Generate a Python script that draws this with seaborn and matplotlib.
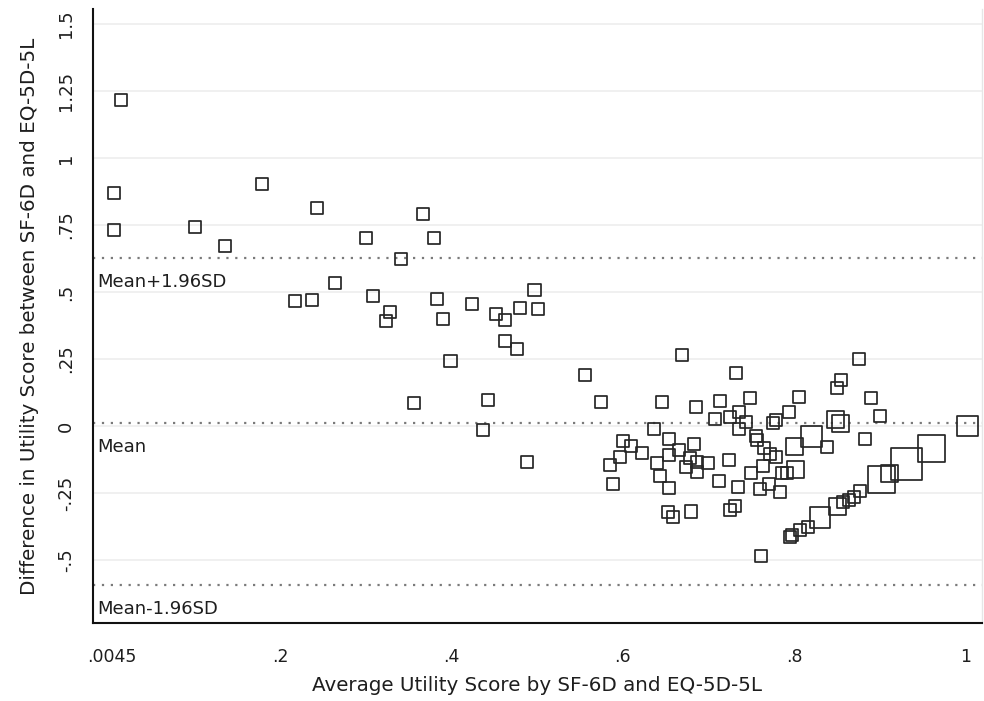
import pandas as pd
import seaborn as sns
import matplotlib.pyplot as plt

# Bland-Altman data (mean of the two scores, difference, weight)
avg_score = [
    0.015, 0.006, 0.006, 0.101, 0.136, 0.179, 0.243, 0.264, 0.218, 0.238,
    0.367, 0.301, 0.380, 0.341, 0.309, 0.329, 0.324, 0.383, 0.390, 0.399,
    0.357, 0.424, 0.452, 0.463, 0.480, 0.497, 0.501, 0.463, 0.477, 0.443,
    0.437, 0.488,
    0.669, 0.556, 0.732, 0.575, 0.646, 0.685, 0.713, 0.748, 0.736, 0.725,
    0.707, 0.744, 0.736, 0.636, 0.805, 0.794, 0.779, 0.775, 0.876, 0.854,
    0.850, 0.889, 0.900, 0.848, 0.854, 0.883, 1.002,
    0.600, 0.610, 0.622, 0.597, 0.585, 0.589,
    0.654, 0.665, 0.654, 0.640, 0.643, 0.654,
    0.683, 0.678, 0.686, 0.674, 0.699, 0.686,
    0.724, 0.712, 0.734,
    0.755, 0.756, 0.765, 0.772, 0.764, 0.750, 0.760, 0.770, 0.783, 0.786,
    0.791, 0.801, 0.779, 0.800, 0.820, 0.838,
    0.761, 0.795, 0.797, 0.807, 0.816, 0.830, 0.850, 0.857, 0.864, 0.870,
    0.877, 0.902, 0.911, 0.931, 0.960,
    0.653, 0.659, 0.679, 0.725, 0.731,
]
diff_score = [
    1.216, 0.871, 0.731, 0.741, 0.673, 0.904, 0.815, 0.532, 0.465, 0.469,
    0.791, 0.700, 0.703, 0.622, 0.485, 0.427, 0.393, 0.475, 0.400, 0.241,
    0.087, 0.456, 0.418, 0.394, 0.441, 0.506, 0.438, 0.317, 0.286, 0.097,
    -0.015, -0.135,
    0.265, 0.189, 0.198, 0.091, 0.091, 0.071, 0.093, 0.103, 0.052, 0.032,
    0.025, 0.015, -0.010, -0.011, 0.109, 0.053, 0.022, 0.010, 0.249, 0.172,
    0.141, 0.103, 0.039, 0.025, 0.010, -0.049, 0.000,
    -0.056, -0.076, -0.102, -0.115, -0.147, -0.216,
    -0.049, -0.091, -0.109, -0.139, -0.187, -0.230,
    -0.068, -0.118, -0.133, -0.152, -0.138, -0.171,
    -0.128, -0.205, -0.228,
    -0.038, -0.052, -0.083, -0.106, -0.148, -0.177, -0.235, -0.215, -0.247, -0.176,
    -0.176, -0.164, -0.115, -0.077, -0.039, -0.077,
    -0.484, -0.413, -0.407, -0.388, -0.376, -0.341, -0.301, -0.282, -0.276, -0.264,
    -0.244, -0.201, -0.179, -0.143, -0.083,
    -0.320, -0.338, -0.319, -0.313, -0.300,
]
weight = [1] * 32 + [1] * 23 + [2, 2, 1, 3] + [1] * 6 + [1] * 6 + [1] * 6 + [1] * 3 + \
    [1] * 11 + [2, 1, 2, 3, 1] + [1, 1, 1, 1, 1, 3, 2, 1, 1, 1, 1, 5, 2, 7, 5] + [1] * 5

mean_diff = 0.012
upper_loa = 0.627
lower_loa = -0.593

yticks = [-0.5, -0.25, 0, 0.25, 0.5, 0.75, 1, 1.25, 1.5]
ytick_labels = ["-.5", "-.25", "0", ".25", ".5", ".75", "1", "1.25", "1.5"]
xticks = [0, 0.0045, 0.2, 0.4, 0.6, 0.8, 1]
xtick_labels = ["", ".0045", ".2", ".4", ".6", ".8", "1"]

df = pd.DataFrame({"avg": avg_score, "diff": diff_score, "w": weight})

sns.set_style("white")
plt.rcParams['font.family'] = ['DejaVu Sans']

fig = plt.figure(figsize=(9.84, 7.01), dpi=100)
ax = fig.add_axes([93 / 984, (701 - 623) / 701, (982 - 93) / 984, (623 - 9) / 701])

for yv in yticks:
    ax.axhline(yv, color='#ececec', lw=1.1, zorder=0)

for yv in [upper_loa, mean_diff, lower_loa]:
    ax.axhline(yv, color='#7a7a7a', lw=1.6, linestyle=(0, (1, 3)), zorder=1)

sns.scatterplot(data=df, x="avg", y="diff", size="w", sizes=(75, 525), size_norm=(1, 7),
                marker='s', edgecolor='#262626', linewidth=1.25, legend=False, ax=ax, zorder=3)
ax.collections[-1].set_facecolor('none')

for yv, lab in [(upper_loa, "Mean+1.96SD"), (mean_diff, "Mean"), (lower_loa, "Mean-1.96SD")]:
    ax.annotate(lab, xy=(0, yv), xycoords=('axes fraction', 'data'),
                xytext=(3, -11), textcoords='offset points',
                ha='left', va='top', fontsize=13, color='#1e1e1e')

ax.set_xlim(-0.018, 1.019)
ax.set_ylim(-0.735, 1.556)
ax.set_yticks(yticks)
ax.set_yticklabels(ytick_labels, rotation=90, va='center')
ax.set_xticks(xticks)
ax.set_xticklabels(xtick_labels)
ax.tick_params(axis='y', length=5, width=1.2, pad=8, labelsize=13, colors='#1e1e1e')
ax.tick_params(axis='x', length=7, width=1.2, pad=11, labelsize=12.5, colors='#1e1e1e')

ax.set_xlabel("Average Utility Score by SF-6D and EQ-5D-5L", fontsize=14.3, color='#1e1e1e', labelpad=7)
ax.set_ylabel("Difference in Utility Score between SF-6D and EQ-5D-5L", fontsize=14.3,
              color='#1e1e1e', labelpad=13)

for s in ['left', 'bottom']:
    ax.spines[s].set_color('#111111')
    ax.spines[s].set_linewidth(1.5)
ax.spines['top'].set_visible(False)
ax.spines['right'].set_color('#e6e6e6')
ax.spines['right'].set_linewidth(1)

plt.savefig("out.png", dpi=100)
plt.close()
